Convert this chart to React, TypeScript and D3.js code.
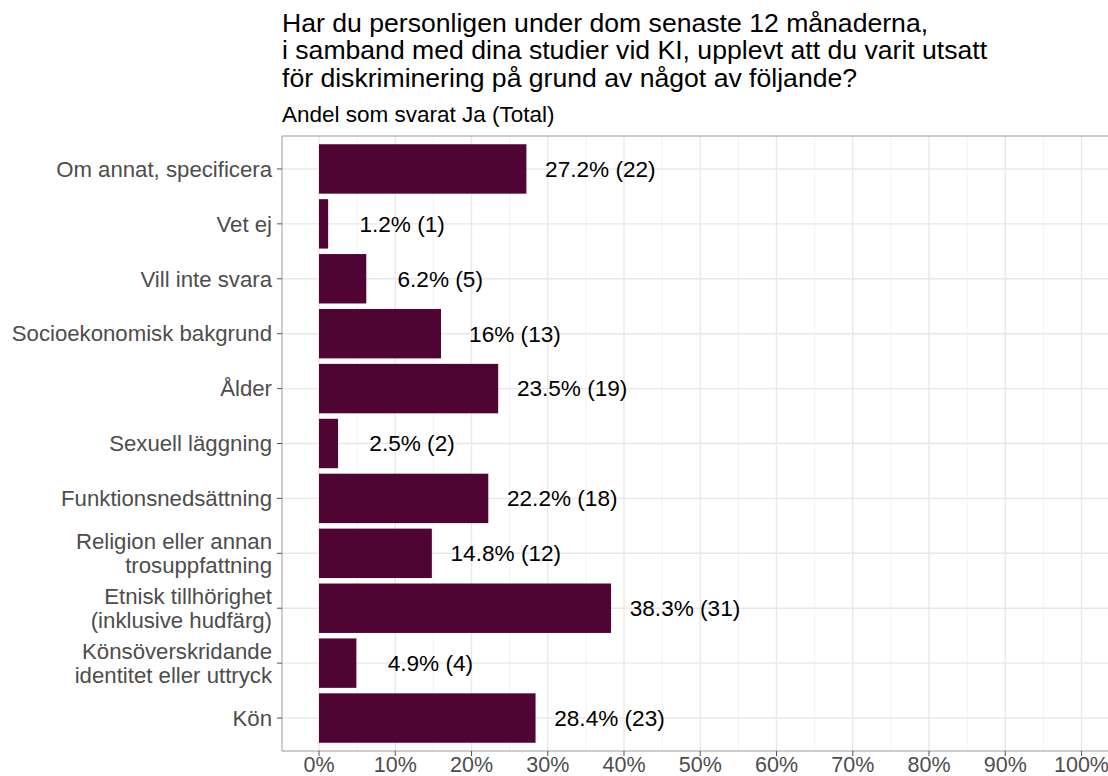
import React from "react";
import * as d3 from "d3";

const categories = [
  "Om annat, specificera",
  "Vet ej",
  "Vill inte svara",
  "Socioekonomisk bakgrund",
  "Ålder",
  "Sexuell läggning",
  "Funktionsnedsättning",
  "Religion eller annan\ntrosuppfattning",
  "Etnisk tillhörighet\n(inklusive hudfärg)",
  "Könsöverskridande\nidentitet eller uttryck",
  "Kön",
];
const percents = [27.2, 1.2, 6.2, 16, 23.5, 2.5, 22.2, 14.8, 38.3, 4.9, 28.4];
const counts = [22, 1, 5, 13, 19, 2, 18, 12, 31, 4, 23];
const xTicks = [0, 10, 20, 30, 40, 50, 60, 70, 80, 90, 100];
const xMinor = [5, 15, 25, 35, 45, 55, 65, 75, 85, 95];
const titleLines = [
  "Har du personligen under dom senaste 12 månaderna,",
  "i samband med dina studier vid KI, upplevt att du varit utsatt",
  "för diskriminering på grund av något av följande?",
];
const subtitle = "Andel som svarat Ja (Total)";

const W = 1108;
const H = 776;
const panelLeft = 282;
const panelTop = 136;
const panelBottom = 751;
const BAR = "#4F0433";
const FONT = "'Liberation Sans', Arial, sans-serif";

export default function App() {
  const x = d3.scaleLinear().domain([0, 100]).range([319, 1081.5]);
  const y = d3
    .scalePoint<string>()
    .domain(categories)
    .range([panelTop, panelBottom])
    .padding(0.6);
  const step = y.step();
  const barH = step * 0.9;
  const panelRight = x(105);

  return (
    <svg
      width={W}
      height={H}
      style={{ position: "absolute", left: 0, top: 0, background: "#fff" }}
      fontFamily={FONT}
    >
      <rect x={0} y={0} width={W} height={H} fill="#fff" />
      {/* title */}
      {titleLines.map((t, i) => (
        <text key={i} x={282} y={32 + i * 27.3} fontSize={26.6} fill="#000">
          {t}
        </text>
      ))}
      <text x={282} y={122} fontSize={22.5} fill="#000">
        {subtitle}
      </text>
      {/* panel */}
      <g>
        {xMinor.map((v) => (
          <line
            key={"mn" + v}
            x1={x(v)}
            x2={x(v)}
            y1={panelTop}
            y2={panelBottom}
            stroke="#f3f3f3"
            strokeWidth={1}
          />
        ))}
        {xTicks.map((v) => (
          <line
            key={"mj" + v}
            x1={x(v)}
            x2={x(v)}
            y1={panelTop}
            y2={panelBottom}
            stroke="#e8e8e8"
            strokeWidth={1.4}
          />
        ))}
        {categories.map((c) => (
          <line
            key={"hg" + c}
            x1={panelLeft}
            x2={panelRight}
            y1={y(c)!}
            y2={y(c)!}
            stroke="#e8e8e8"
            strokeWidth={1.4}
          />
        ))}
        {categories.map((c, i) => (
          <rect
            key={"b" + c}
            x={x(0)}
            y={y(c)! - barH / 2}
            width={x(percents[i]) - x(0)}
            height={barH}
            fill={BAR}
          />
        ))}
        {categories.map((c, i) => (
          <text
            key={"l" + c}
            x={x(percents[i] + 9.7)}
            y={y(c)!}
            dy="0.35em"
            textAnchor="middle"
            fontSize={22.6}
            fill="#000"
          >
            {`${percents[i]}% (${counts[i]})`}
          </text>
        ))}
        <line x1={panelLeft} x2={panelRight} y1={panelTop} y2={panelTop} stroke="#9a9a9a" strokeWidth={1} />
        <line x1={panelLeft} x2={panelLeft} y1={panelTop} y2={panelBottom} stroke="#9a9a9a" strokeWidth={1} />
        <line x1={panelLeft} x2={panelRight} y1={panelBottom} y2={panelBottom} stroke="#9a9a9a" strokeWidth={1} />
      </g>
      {/* y axis */}
      {categories.map((c) => {
        const lines = c.split("\n");
        const yc = y(c)!;
        const lh = 24;
        return (
          <g key={"ya" + c}>
            <line x1={panelLeft - 5} x2={panelLeft} y1={yc} y2={yc} stroke="#555" strokeWidth={1} />
            <text
              x={panelLeft - 10}
              textAnchor="end"
              fontSize={22.2}
              fill="#4d4d4d"
            >
              {lines.map((l, j) => (
                <tspan key={j} x={panelLeft - 10} y={yc + (j - (lines.length - 1) / 2) * lh} dy="0.35em">
                  {l}
                </tspan>
              ))}
            </text>
          </g>
        );
      })}
      {/* x axis */}
      {xTicks.map((v) => (
        <g key={"xa" + v}>
          <line x1={x(v)} x2={x(v)} y1={panelBottom} y2={panelBottom + 5} stroke="#555" strokeWidth={1} />
          <text x={x(v)} y={772} textAnchor="middle" fontSize={21.5} fill="#4d4d4d">
            {`${v}%`}
          </text>
        </g>
      ))}
    </svg>
  );
}
